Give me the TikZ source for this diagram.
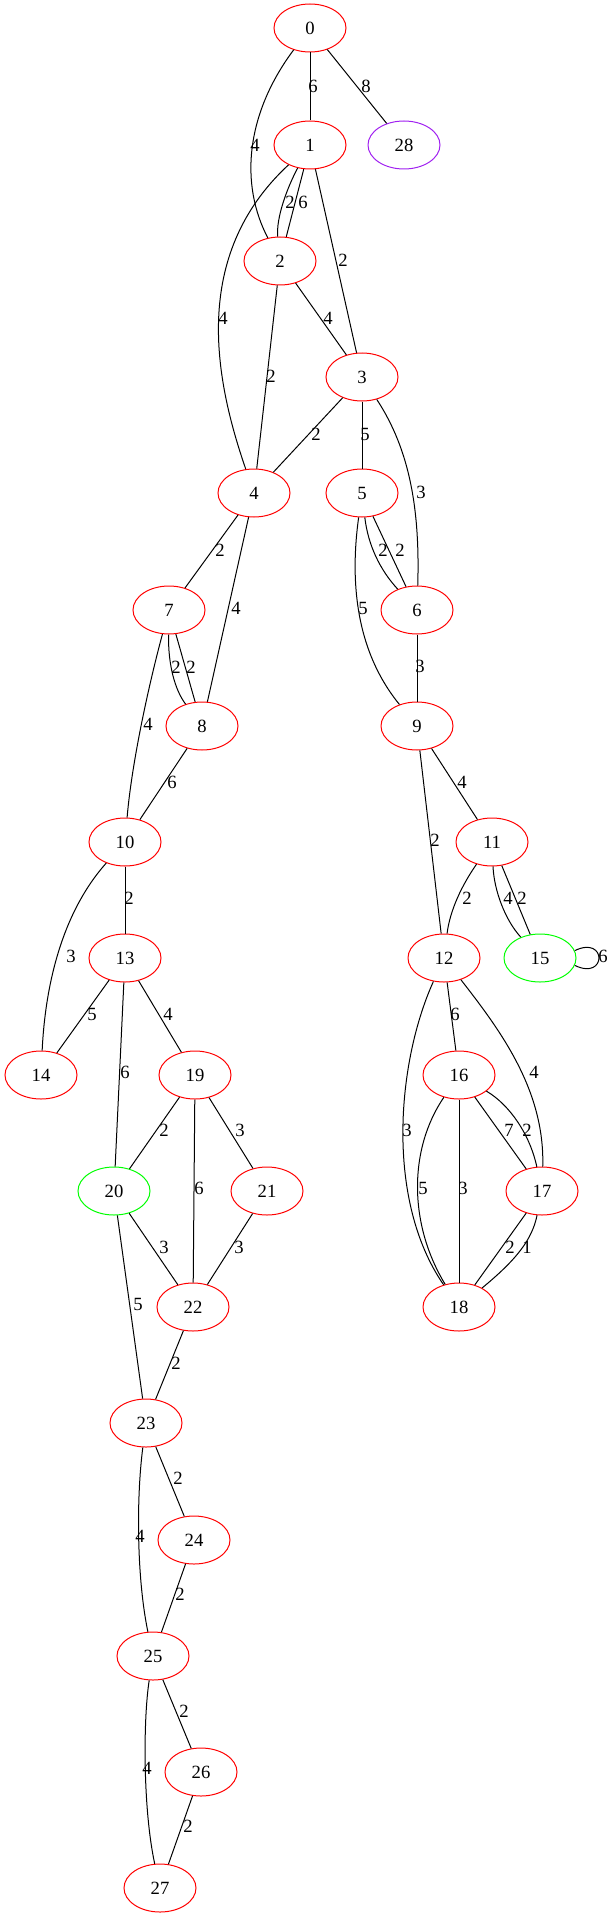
\documentclass[tikz,border=0pt]{standalone}
\usepackage{fontspec}
\setmainfont{Liberation Serif}
\usetikzlibrary{shapes.geometric}
\definecolor{vred}{HTML}{FF0000}
\definecolor{vgreen}{HTML}{00FF00}
\definecolor{vpurple}{HTML}{A020F0}

\begin{document}
\begin{tikzpicture}[x=0.75pt, y=-0.75pt,
    every node/.style={font=\fontsize{14}{16}\selectfont},
    vtx/.style={ellipse, draw=vred, line width=0.75pt, minimum width=54pt,
      minimum height=36pt, inner sep=0pt},
    wt/.style={inner sep=0pt},
    lnk/.style={line width=0.75pt, black}]
  \useasboundingbox (0,0) rectangle (616,1915);

  % vertices
  \node[vtx] (n0) at (310,28) {0};
  \node[vtx] (n1) at (310,145) {1};
  \node[vtx, draw=vpurple] (n28) at (404,145) {28};
  \node[vtx] (n2) at (280,261) {2};
  \node[vtx] (n3) at (362,377) {3};
  \node[vtx] (n4) at (254,493) {4};
  \node[vtx] (n5) at (362,493) {5};
  \node[vtx] (n6) at (417,610) {6};
  \node[vtx] (n7) at (169,610) {7};
  \node[vtx] (n8) at (202,726) {8};
  \node[vtx] (n9) at (417,726) {9};
  \node[vtx] (n10) at (125,842) {10};
  \node[vtx] (n11) at (492,842) {11};
  \node[vtx] (n12) at (444,958) {12};
  \node[vtx] (n13) at (125,958) {13};
  \node[vtx, draw=vgreen] (n15) at (540,958) {15};
  \node[vtx] (n14) at (41,1075) {14};
  \node[vtx] (n16) at (459,1075) {16};
  \node[vtx] (n19) at (195,1075) {19};
  \node[vtx, draw=vgreen] (n20) at (114,1191) {20};
  \node[vtx] (n21) at (267,1191) {21};
  \node[vtx] (n17) at (542,1191) {17};
  \node[vtx] (n18) at (459,1307) {18};
  \node[vtx] (n22) at (193,1307) {22};
  \node[vtx] (n23) at (146,1423) {23};
  \node[vtx] (n24) at (194,1540) {24};
  \node[vtx] (n25) at (153,1656) {25};
  \node[vtx] (n26) at (201,1772) {26};
  \node[vtx] (n27) at (160,1888) {27};

  % straight edges
  \foreach \a/\b in {0/1, 0/28, 1/3, 2/3, 2/4, 3/4, 3/5, 4/7, 4/8, 6/9,
      8/10, 9/11, 9/12, 10/13, 12/16, 13/14, 13/19, 13/20, 19/20, 19/21,
      19/22, 20/22, 20/23, 21/22, 22/23, 23/24, 24/25, 25/26, 26/27,
      1/2, 5/6, 7/8, 11/15, 16/17, 16/18, 17/18}
    \draw[lnk] (n\a) -- (n\b);

  % curved edges
  \draw[lnk] (n0) .. controls (245,115) and (240,185) .. (n2);
  \draw[lnk] (n1) .. controls (287,188) and (276,218) .. (n2);
  \draw[lnk] (n1) .. controls (190,256) and (215,380) .. (n4);
  \draw[lnk] (n3) .. controls (410,450) and (420,510) .. (n6);
  \draw[lnk] (n5) .. controls (368,545) and (380,570) .. (n6);
  \draw[lnk] (n5) .. controls (350,580) and (355,650) .. (n9);
  \draw[lnk] (n7) .. controls (168,665) and (175,690) .. (n8);
  \draw[lnk] (n7) .. controls (150,680) and (132,760) .. (n10);
  \draw[lnk] (n10) .. controls (60,915) and (45,990) .. (n14);
  \draw[lnk] (n11) .. controls (462,885) and (450,910) .. (n12);
  \draw[lnk] (n11) .. controls (494,890) and (505,920) .. (n15);
  \draw[lnk] (n15.12) .. controls (607,935) and (607,981) .. (n15.-12);
  \draw[lnk] (n12) .. controls (397,1062) and (385,1200) .. (n18);
  \draw[lnk] (n12) .. controls (500,1030) and (545,1090) .. (n17);
  \draw[lnk] (n16) .. controls (510,1105) and (530,1135) .. (n17);
  \draw[lnk] (n16) .. controls (408,1150) and (409,1225) .. (n18);
  \draw[lnk] (n17) .. controls (532,1240) and (516,1260) .. (n18);
  \draw[lnk] (n23) .. controls (136,1500) and (137,1580) .. (n25);
  \draw[lnk] (n25) .. controls (143,1720) and (143,1810) .. (n27);

  % weights
  \node[wt] (l0-1) at (313,86) {6};
  \node[wt] (l0-28) at (366,86) {8};
  \node[wt] (l0-2) at (255,145) {4};
  \node[wt] (l1-2a) at (290,202) {2};
  \node[wt] (l1-2b) at (303,202) {6};
  \node[wt] (l1-3) at (343,260) {2};
  \node[wt] (l1-4) at (223,318) {4};
  \node[wt] (l2-3) at (328,318) {4};
  \node[wt] (l2-4) at (271,376) {2};
  \node[wt] (l3-4) at (316,434) {2};
  \node[wt] (l3-5) at (365,434) {5};
  \node[wt] (l3-6) at (421,492) {3};
  \node[wt] (l4-7) at (220,550) {2};
  \node[wt] (l4-8) at (236,608) {4};
  \node[wt] (l5-6a) at (383,550) {2};
  \node[wt] (l5-6b) at (400,550) {2};
  \node[wt] (l5-9) at (363,608) {5};
  \node[wt] (l7-8a) at (176,667) {2};
  \node[wt] (l7-8b) at (191,667) {2};
  \node[wt] (l6-9) at (420,666) {3};
  \node[wt] (l7-10) at (148,724) {4};
  \node[wt] (l8-10) at (172,782) {6};
  \node[wt] (l9-11) at (462,782) {4};
  \node[wt] (l9-12) at (435,840) {2};
  \node[wt] (l10-13) at (129,898) {2};
  \node[wt] (l11-12) at (467,898) {2};
  \node[wt] (l11-15a) at (508,898) {4};
  \node[wt] (l11-15b) at (522,898) {2};
  \node[wt] (l10-14) at (71,956) {3};
  \node[wt] (l15-15) at (603,956) {6};
  \node[wt] (l13-14) at (92,1014) {5};
  \node[wt] (l13-19) at (168,1014) {4};
  \node[wt] (l12-16) at (455,1014) {6};
  \node[wt] (l13-20) at (125,1072) {6};
  \node[wt] (l12-17) at (534,1072) {4};
  \node[wt] (l19-20) at (164,1130) {2};
  \node[wt] (l19-21) at (240,1130) {3};
  \node[wt] (l12-18) at (407,1130) {3};
  \node[wt] (l16-17a) at (509,1130) {7};
  \node[wt] (l16-17b) at (527,1130) {2};
  \node[wt] (l19-22) at (199,1188) {6};
  \node[wt] (l16-18a) at (423,1188) {5};
  \node[wt] (l16-18b) at (463,1188) {3};
  \node[wt] (l20-22) at (164,1247) {3};
  \node[wt] (l21-22) at (239,1247) {3};
  \node[wt] (l17-18a) at (510,1247) {2};
  \node[wt] (l17-18b) at (527,1247) {1};
  \node[wt] (l20-23) at (138,1304) {5};
  \node[wt] (l22-23) at (176,1363) {2};
  \node[wt] (l23-24) at (178,1478) {2};
  \node[wt] (l23-25) at (140,1536) {4};
  \node[wt] (l24-25) at (180,1594) {2};
  \node[wt] (l25-26) at (184,1711) {2};
  \node[wt] (l25-27) at (147,1768) {4};
  \node[wt] (l26-27) at (188,1826) {2};
\end{tikzpicture}
\end{document}
